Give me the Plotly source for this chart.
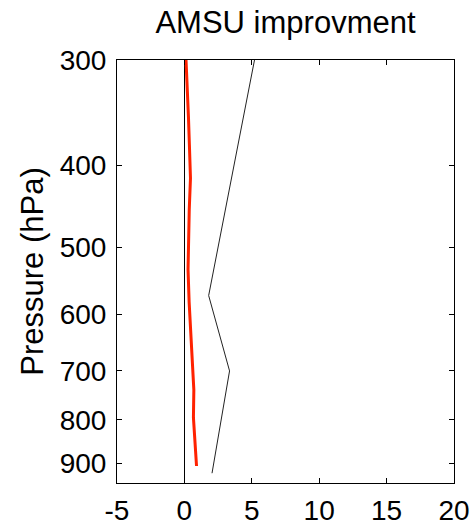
import numpy as np
import plotly.graph_objects as go

# Data
black_p = [300, 570, 700, 925]
black_x = [5.2, 1.8, 3.35, 2.05]

red_p = [300, 306, 323, 350, 378, 414, 451, 486, 531, 580, 624, 675, 737, 795, 845, 890, 907]
red_x = [0.12, 0.15, 0.23, 0.30, 0.37, 0.45, 0.36, 0.30, 0.27, 0.35, 0.45, 0.57, 0.70, 0.67, 0.77, 0.88, 0.9]

x_ticks = [-5, 0, 5, 10, 15, 20]
y_ticks = [300, 400, 500, 600, 700, 800, 900]

FONT = "Liberation Sans, Arial, Helvetica, sans-serif"

fig = go.Figure()
fig.add_trace(go.Scatter(x=black_x, y=black_p, mode="lines",
                         line=dict(color="#222222", width=1), showlegend=False))
fig.add_trace(go.Scatter(x=red_x, y=red_p, mode="lines",
                         line=dict(color="#ff2200", width=3), showlegend=False))

fig.update_layout(
    width=475, height=527,
    margin=dict(l=117, r=21, t=60, b=44, autoexpand=False),
    paper_bgcolor="white", plot_bgcolor="white",
    font=dict(family=FONT, size=28, color="black"),
    title=dict(text="AMSU improvment", x=(117 + 454) / 2 / 475, xanchor="center",
               y=1 - 22 / 527, yanchor="middle", font=dict(size=31, family=FONT)),
)
fig.update_xaxes(
    range=[-5, 20], tickvals=x_ticks, ticktext=[str(v) for v in x_ticks],
    ticks="inside", ticklen=5, tickcolor="black", showline=True, linecolor="black",
    linewidth=1, mirror="ticks", showgrid=False, zeroline=True, zerolinecolor="black",
    zerolinewidth=1, ticklabelstandoff=2, tickfont=dict(size=28), automargin=False,
)
fig.update_yaxes(
    type="log", range=[np.log10(950), np.log10(300)], tickvals=y_ticks,
    ticktext=[str(v) for v in y_ticks],
    ticks="inside", ticklen=5, tickcolor="black", showline=True, linecolor="black",
    linewidth=1, mirror="ticks", showgrid=False, zeroline=False,
    ticklabelstandoff=4, tickfont=dict(size=28), automargin=False,
    title=dict(text="Pressure (hPa)", font=dict(size=31), standoff=6),
)

fig.write_html("out.html")
